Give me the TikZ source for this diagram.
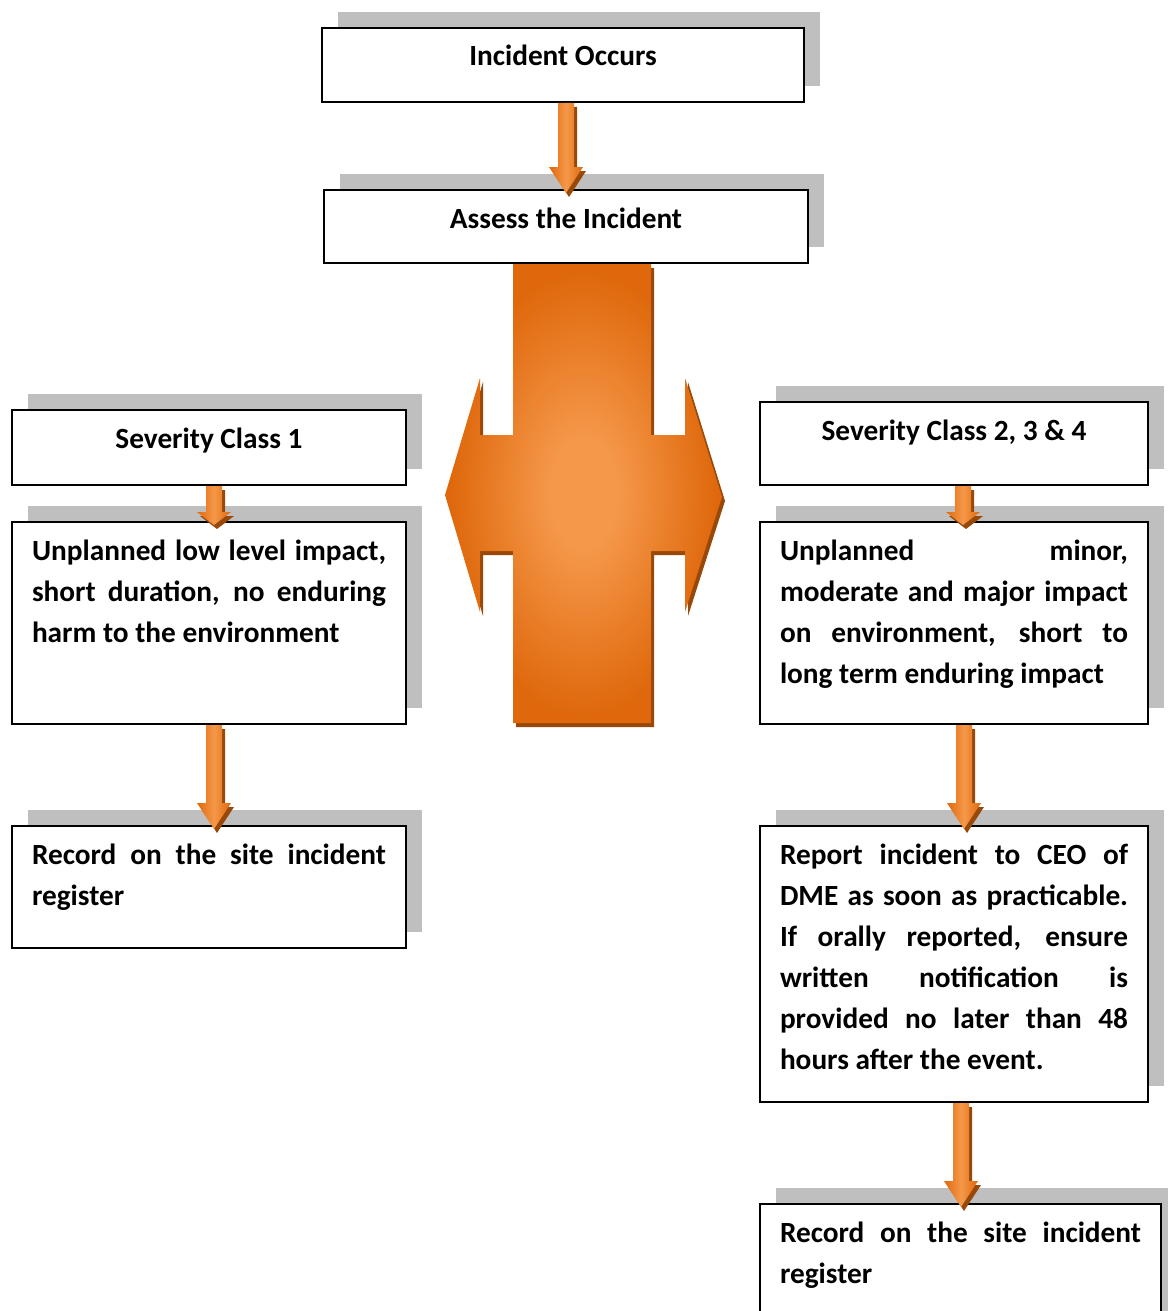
\documentclass[tikz,border=0pt]{standalone}
\usepackage{fontspec}
\setmainfont{Carlito}
\usetikzlibrary{calc,shadows}
\definecolor{arrow_dark}{RGB}{223,104,12}
\definecolor{arrow_light}{RGB}{245,152,74}
\definecolor{arrow_shadow}{RGB}{152,72,8}
\definecolor{box_shadow}{RGB}{191,191,191}
\pgfdeclareradialshading{crossglow}{\pgfpoint{0bp}{0bp}}{color(0bp)=(arrow_light); color(6bp)=(arrow_light); color(24bp)=(arrow_dark); color(50bp)=(arrow_dark)}
\tolerance=10000
\hbadness=10000
\hyphenpenalty=10000

\begin{document}
\begin{tikzpicture}[
    x=1pt, y=-1pt,
    box/.style={rectangle, draw, line width=2pt, fill=white, anchor=north west, inner xsep=20pt, inner ysep=0pt, text height=38pt, align=justify, font=\fontsize{29.3pt}{41pt}\selectfont\bfseries, general shadow={fill=box_shadow, shadow xshift=16pt, shadow yshift=16pt}},
    arrow/.style={left color=arrow_dark, right color=arrow_dark, middle color=arrow_light, general shadow={fill=arrow_shadow, shadow xshift=3pt, shadow yshift=-4pt},
        to path={let \p1=(\tikztostart), \p2=(\tikztotarget) in
            (\x1-8pt,\y1) -- (\x1+8pt,\y1) -- (\x1+8pt,\y2+#1) -- (\x1+17pt,\y2+#1) -- (\x1,\y2-4pt) -- (\x1-17pt,\y2+#1) -- (\x1-8pt,\y2+#1) -- cycle}},
    arrow/.default=22pt
]
\useasboundingbox (0,0) rectangle (1167,1311);

\node[box, text width=442pt, text depth=36pt, align=flush center] (occurs) at (321,27) {Incident Occurs};
\node[box, text width=444pt, text depth=35pt, align=flush center] (assess) at (323,189) {Assess the Incident};

% left branch
\node[box, text width=354pt, text depth=37pt, align=flush center] (sev1) at (11,409) {Severity Class 1};
\node[box, text width=354pt, text depth=164pt] (low) at (11,521) {Unplanned low level impact,\linebreak short duration, no enduring\linebreak harm to the environment};
\node[box, text width=354pt, text depth=84pt] (record1) at (11,825) {Record on the site incident\linebreak register};

% right branch
\node[box, text width=348pt, text depth=45pt, align=flush center] (sev2) at (759,401) {Severity Class 2, 3 \& 4};
\node[box, text width=348pt, text depth=164pt] (major) at (759,521) {Unplanned minor,\linebreak moderate and major impact\linebreak on environment, short to\linebreak long term enduring impact};
\node[box, text width=348pt, text depth=238pt] (report) at (759,825) {Report incident to CEO of\linebreak DME as soon as practicable.\linebreak If orally reported, ensure\linebreak written notification is\linebreak provided no later than 48\linebreak hours after the event.};
\node[box, text width=361pt, text depth=100pt] (record2) at (759,1203) {Record on the site incident\linebreak register};

% two-way split arrow
\shade[shading=crossglow, general shadow={fill=arrow_shadow, shadow xshift=3pt, shadow yshift=-4pt}]
    (445,495) -- (480,378) -- (480,435) -- (513,435) -- (513,264) -- (651,264) -- (651,435) -- (685,435) -- (685,378) -- (722,497)
    -- (685,612) -- (685,551) -- (651,551) -- (651,723) -- (513,723) -- (513,551) -- (480,551) -- (480,612) -- cycle;

\shade[arrow] ([xshift=3pt]occurs.south) to (assess.north);
\shade[arrow=9pt] ([xshift=5pt]sev1.south) to (low.north);
\shade[arrow] ([xshift=5pt]low.south) to (record1.north);
\shade[arrow=9pt] ([xshift=9pt]sev2.south) to (major.north);
\shade[arrow] ([xshift=10pt]major.south) to (report.north);
\shade[arrow] ([xshift=7pt]report.south) to (record2.north);
\end{tikzpicture}
\end{document}
